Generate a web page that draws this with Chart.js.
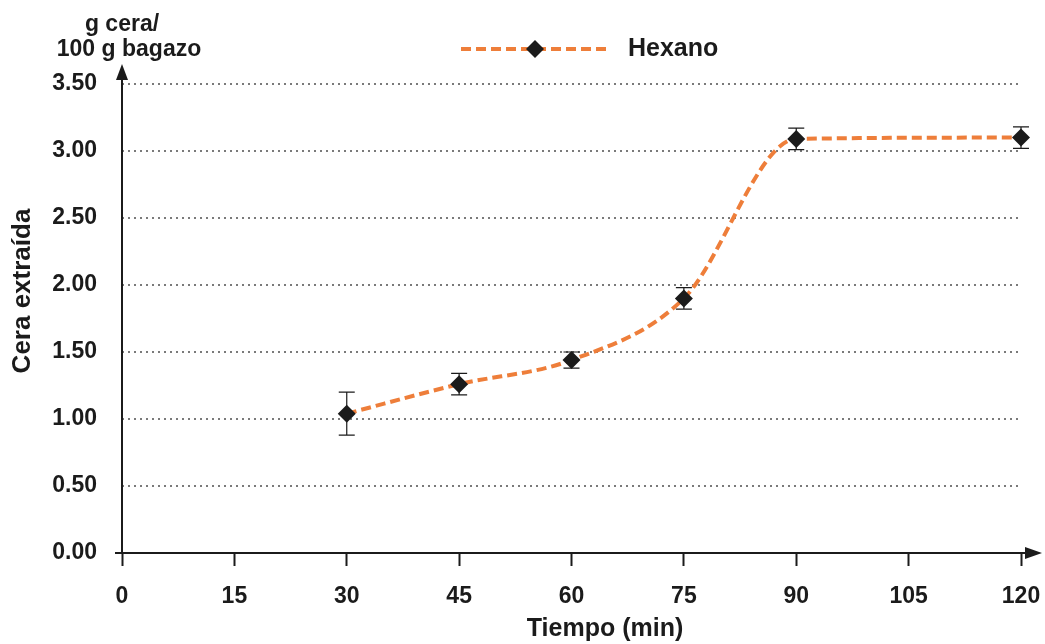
<!DOCTYPE html>
<html>
<head>
<meta charset="utf-8">
<script src="https://cdn.jsdelivr.net/npm/chart.js@4"></script>
<style>
  html, body { margin: 0; padding: 0; background: #fff; }
  #wrap { width: 1045px; height: 644px; }
</style>
</head>
<body>
<div id="wrap"><canvas id="chart" width="1045" height="644"></canvas></div>
<script>
// data
const tiempos = [30, 45, 60, 75, 90, 120];
const ceraHexano = [1.04, 1.26, 1.44, 1.90, 3.09, 3.10];
const errorHexano = [0.16, 0.08, 0.06, 0.08, 0.08, 0.08];
const serieNombre = 'Hexano';
const tituloX = 'Tiempo (min)';
const tituloY = 'Cera extraída';
const unidadY = ['g cera/', '100 g bagazo'];

const FONT = "'Liberation Sans', Arial, sans-serif";
const ORANGE = '#EE7E3A';
const INK = '#1b1b1b';

const decoPlugin = {
  id: 'deco',
  beforeDatasetsDraw(chart) {
    const ctx = chart.ctx;
    const xs = chart.scales.x, ys = chart.scales.y;
    ctx.save();
    ctx.strokeStyle = INK;
    ctx.lineWidth = 1.2;
    tiempos.forEach((t, i) => {
      const px = xs.getPixelForValue(t);
      const top = ys.getPixelForValue(ceraHexano[i] + errorHexano[i]);
      const bot = ys.getPixelForValue(ceraHexano[i] - errorHexano[i]);
      ctx.beginPath();
      ctx.moveTo(px, top); ctx.lineTo(px, bot);
      ctx.moveTo(px - 8, top); ctx.lineTo(px + 8, top);
      ctx.moveTo(px - 8, bot); ctx.lineTo(px + 8, bot);
      ctx.stroke();
    });
    ctx.restore();
  },
  afterDraw(chart) {
    const ctx = chart.ctx;
    const xs = chart.scales.x, ys = chart.scales.y;
    const x0 = xs.getPixelForValue(0);
    const y0 = ys.getPixelForValue(0);
    ctx.save();
    // axes with arrows
    ctx.strokeStyle = INK;
    ctx.fillStyle = INK;
    ctx.lineWidth = 2;
    ctx.beginPath();
    ctx.moveTo(x0 - 7, y0); ctx.lineTo(1030, y0);
    ctx.moveTo(x0, y0); ctx.lineTo(x0, 74);
    ctx.stroke();
    ctx.beginPath();
    ctx.moveTo(1042, y0); ctx.lineTo(1025, y0 - 6); ctx.lineTo(1025, y0 + 6); ctx.closePath();
    ctx.fill();
    ctx.beginPath();
    ctx.moveTo(x0, 64); ctx.lineTo(x0 - 6, 80); ctx.lineTo(x0 + 6, 80); ctx.closePath();
    ctx.fill();

    // titles
    ctx.font = 'bold 25px ' + FONT;
    ctx.textAlign = 'center';
    ctx.textBaseline = 'middle';
    ctx.fillText(tituloX, 605, 629);
    ctx.save();
    ctx.translate(23, 291);
    ctx.rotate(-Math.PI / 2);
    ctx.font = 'bold 26px ' + FONT;
    ctx.fillText(tituloY, 0, 0);
    ctx.restore();
    ctx.font = 'bold 23px ' + FONT;
    ctx.textBaseline = 'alphabetic';
    ctx.fillText(unidadY[0], 122, 31);
    ctx.fillText(unidadY[1], 129, 56);

    // legend
    const ly = 49;
    ctx.strokeStyle = ORANGE;
    ctx.lineWidth = 4;
    ctx.setLineDash([10, 5]);
    ctx.beginPath();
    ctx.moveTo(461, ly); ctx.lineTo(607, ly);
    ctx.stroke();
    ctx.setLineDash([]);
    ctx.fillStyle = INK;
    ctx.beginPath();
    ctx.moveTo(535, ly - 9); ctx.lineTo(544, ly); ctx.lineTo(535, ly + 9); ctx.lineTo(526, ly);
    ctx.closePath();
    ctx.fill();
    ctx.font = 'bold 25px ' + FONT;
    ctx.textAlign = 'left';
    ctx.textBaseline = 'middle';
    ctx.fillText(serieNombre, 628, ly);
    ctx.restore();
  }
};

new Chart(document.getElementById('chart'), {
  type: 'line',
  data: {
    datasets: [{
      label: serieNombre,
      data: tiempos.map((t, i) => ({ x: t, y: ceraHexano[i] })),
      borderColor: ORANGE,
      borderWidth: 4,
      borderDash: [10, 5],
      cubicInterpolationMode: 'monotone',
      fill: false,
      clip: false,
      pointStyle: 'rectRot',
      pointRadius: 9,
      pointBackgroundColor: INK,
      pointBorderColor: INK,
      pointBorderWidth: 0
    }]
  },
  options: {
    responsive: false,
    animation: false,
    events: [],
    layout: { padding: { left: 0, right: 24, top: 84, bottom: 0 } },
    plugins: { legend: { display: false }, tooltip: { enabled: false } },
    scales: {
      x: {
        type: 'linear',
        min: 0,
        max: 120,
        afterFit: s => { s.height = 91; s.paddingLeft = 0; s.paddingRight = 0; },
        ticks: {
          stepSize: 15,
          color: INK,
          padding: 17,
          maxRotation: 0,
          font: { family: FONT, size: 23, weight: 'bold' }
        },
        grid: {
          drawOnChartArea: false,
          tickLength: 13,
          tickColor: INK,
          tickWidth: 2
        },
        border: { display: false }
      },
      y: {
        min: 0,
        max: 3.5,
        afterFit: s => { s.width = 122; s.paddingTop = 0; s.paddingBottom = 0; },
        ticks: {
          stepSize: 0.5,
          color: INK,
          padding: 25,
          font: { family: FONT, size: 23, weight: 'bold' },
          callback: v => v.toFixed(2)
        },
        grid: {
          drawTicks: false,
          lineWidth: 2,
          color: c => (c.tick && c.tick.value === 0 ? 'rgba(0,0,0,0)' : '#7a7a7a')
        },
        border: { display: false, dash: [2, 4] }
      }
    }
  },
  plugins: [decoPlugin]
});
</script>
</body>
</html>
